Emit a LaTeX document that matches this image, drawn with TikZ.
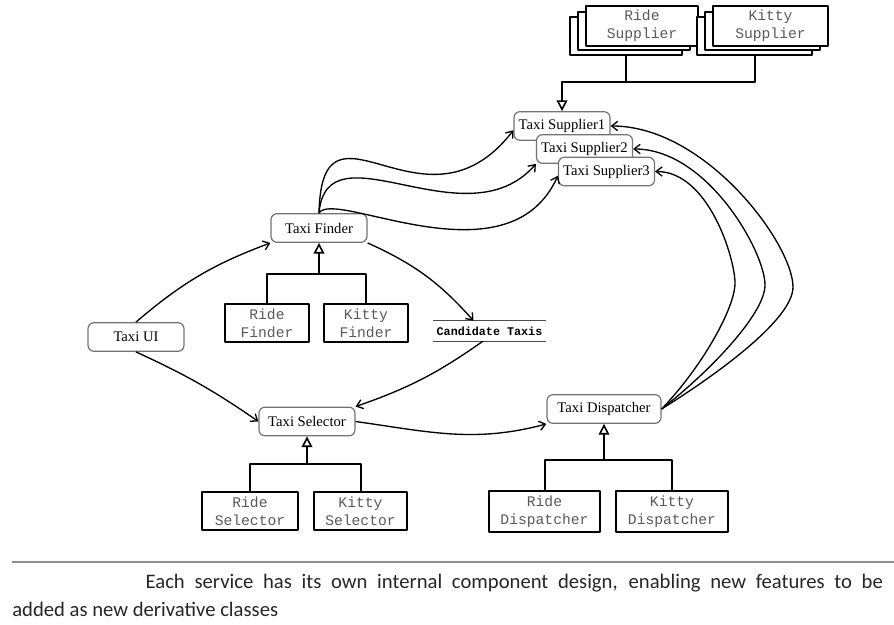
\documentclass[tikz,border=0pt]{standalone}
\usepackage{fontspec}
\setmainfont{Liberation Serif}
\newfontfamily\monofont{Liberation Mono}
\newfontfamily\capfont{Carlito}
\usetikzlibrary{arrows.meta,calc}

\begin{document}
\begin{tikzpicture}[x=0.75pt, y=0.75pt, line join=round,
		>={Straight Barb[length=4.5pt,width=7pt]},
		svc/.style={draw=black!55, line width=0.9pt, rounded corners=4.5pt, fill=white, minimum width=72pt, minimum height=21.5pt, inner xsep=3.5pt, font=\fontsize{11}{13}\selectfont},
		impl/.style={draw, line width=1.5pt, fill=white, align=center, minimum height=28.5pt, text=black!65, font=\monofont\fontsize{11}{13.5}\selectfont},
		link/.style={->, line width=1pt},
		gen/.style={line width=1.5pt},
		tri/.style={-{Triangle[open,length=8pt,width=8pt,line width=1.2pt]}}]
	\useasboundingbox (0,0) rectangle (894,625);
	% supplier stacks
	\node[impl, minimum width=84pt] (rsup3) at (626,589) {};
	\node[impl, minimum width=84pt] (rsup2) at (634,594) {};
	\node[impl, minimum width=84pt] (rsup) at (642,599) {Ride\\Supplier};
	\node[impl, minimum width=86pt] (ksup3) at (754.5,589) {};
	\node[impl, minimum width=86pt] (ksup2) at (762.5,594) {};
	\node[impl, minimum width=86pt] (ksup) at (770.5,599) {Kitty\\Supplier};
	% services
	\node[svc] (tsup1) at (562,499) {Taxi Supplier1};
	\node[svc] (tsup2) at (584.5,476) {Taxi Supplier2};
	\node[svc] (tsup3) at (606.5,453.5) {Taxi Supplier3};
	\node[svc] (tf) at (319,397) {Taxi Finder};
	\node[svc] (tu) at (136,288) {Taxi UI};
	\node[svc] (tsel) at (307,203.5) {Taxi Selector};
	\node[svc, minimum width=85.5pt] (tdis) at (604,216) {Taxi Dispatcher};
	% implementations
	\node[impl, minimum width=63pt] (rfin) at (267,301.5) {Ride\\Finder};
	\node[impl, minimum width=63pt] (kfin) at (366,301.5) {Kitty\\Finder};
	\node[impl, minimum width=72pt] (rsel) at (250,114) {Ride\\Selector};
	\node[impl, minimum width=70pt] (ksel) at (360.5,114) {Kitty\\Selector};
	\node[impl, minimum width=83pt] (rdis) at (544.5,113.5) {Ride\\Dispatcher};
	\node[impl, minimum width=84pt] (kdis) at (672,113.5) {Kitty\\Dispatcher};
	% data store
	\node[minimum width=85pt, minimum height=15pt, inner sep=0pt, font=\monofont\bfseries\fontsize{8.8}{10}\selectfont] (ct) at (489.5,294) {Candidate Taxis};
	\draw[line width=0.9pt, black!70] (ct.north west) -- (ct.north east) (ct.south west) -- (ct.south east);
	% inheritance
	\coordinate (sj) at ($(tsup1.north)+(0,29)$);
	\draw[gen] (rsup3.south) |- (sj);
	\draw[gen, tri] (ksup3.south) |- (sj) -- (tsup1.north);
	\coordinate (fj) at ($(tf.south)+(0,-31)$);
	\draw[gen] (rfin.north) |- (fj);
	\draw[gen, tri] (kfin.north) |- (fj) -- (tf.south);
	\coordinate (slj) at ($(tsel.south)+(0,-28)$);
	\draw[gen] (rsel.north) |- (slj);
	\draw[gen, tri] (ksel.north) |- (slj) -- (tsel.south);
	\coordinate (dj) at ($(tdis.south)+(0,-36)$);
	\draw[gen] (rdis.north) |- (dj);
	\draw[gen, tri] (kdis.north) |- (dj) -- (tdis.south);
	% calls
	\draw[link] (tu.north) to[bend left=10] (tf.south west);
	\draw[link] (tu.south) to[bend left=5] (tsel.west);
	\draw[link] (tf.south east) to[bend left=12] ([xshift=-12pt]ct.north);
	\draw[link] ([xshift=-5pt]ct.south) to[bend left=8] (tsel.north east);
	\draw[link] (tsel.east) to[out=-8,in=195] (tdis.south west);
	\draw[link] (tf.north) .. controls +(3,132) and +(-89,-115) .. (tsup1.185);
	\draw[link] (tf.north) .. controls +(8,90) and +(-70,-80) .. (tsup2.south west);
	\draw[link] (tf.north) .. controls +(15,25) and +(-50,-110) .. (tsup3.185);
	\draw[link] (tdis.east) to[out=32,in=-90,in looseness=0.45] (793,338) to[out=90,in=0,out looseness=0.45] (tsup1.east);
	\draw[link] (tdis.east) to[out=38,in=-90,in looseness=0.45] (765,340) to[out=90,in=0,out looseness=0.45] (tsup2.east);
	\draw[link] (tdis.east) to[out=46,in=-90,in looseness=0.45] (735,342) to[out=90,in=0,out looseness=0.45] (tsup3.east);
	% caption
	\draw[line width=1.5pt, black!45] (12,63) -- (894,63);
	\node[anchor=north west, inner sep=0pt, text width=653pt, align=justify, text=black!85, font=\capfont\fontsize{15.5}{21}\selectfont] (cap) at (12,51) {\hspace*{100pt}Each service has its own internal component design, enabling new features to be\linebreak added as new derivative classes};
\end{tikzpicture}
\end{document}
